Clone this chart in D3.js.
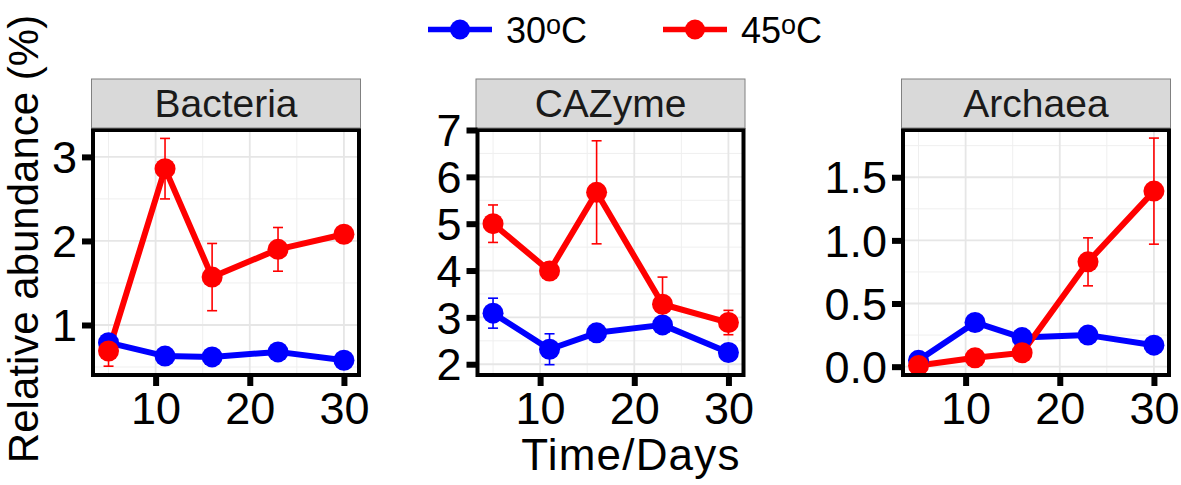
<!DOCTYPE html>
<html>
<head>
<meta charset="utf-8">
<script src="https://cdn.jsdelivr.net/npm/d3@7"></script>
<style>
  html, body { margin: 0; padding: 0; background: #ffffff; }
  svg { display: block; font-family: "Liberation Sans", Arial, Helvetica, sans-serif; }
</style>
</head>
<body>
<script>
// ---------------- data ----------------
const days = [5, 11, 16, 23, 30];
const panelNames = ["Bacteria", "CAZyme", "Archaea"];
const seriesNames = ["30", "45"];
const seriesColors = ["#0000ff", "#ff0000"];

const bacteria30 = [0.79, 0.63, 0.62, 0.68, 0.58];
const bacteria30Sd = [0.05, 0.04, 0.04, 0.05, 0.03];
const bacteria45 = [0.69, 2.86, 1.57, 1.90, 2.08];
const bacteria45Sd = [0.18, 0.36, 0.40, 0.26, 0.04];

const cazyme30 = [3.09, 2.32, 2.67, 2.84, 2.25];
const cazyme30Sd = [0.32, 0.33, 0.08, 0.08, 0.08];
const cazyme45 = [5.00, 3.99, 5.67, 3.28, 2.89];
const cazyme45Sd = [0.40, 0.10, 1.10, 0.58, 0.26];

const archaea30 = [0.05, 0.35, 0.23, 0.25, 0.17];
const archaea30Sd = [0.02, 0.04, 0.03, 0.03, 0.03];
const archaea45 = [0.01, 0.07, 0.11, 0.83, 1.39];
const archaea45Sd = [0.01, 0.02, 0.03, 0.19, 0.42];

const xTicks = [10, 20, 30];
const xMinorTicks = [5, 15, 25];
const bacteriaYTicks = [1, 2, 3];
const bacteriaYMinor = [0.5, 1.5, 2.5];
const cazymeYTicks = [2, 3, 4, 5, 6, 7];
const cazymeYMinor = [2.5, 3.5, 4.5, 5.5, 6.5];
const archaeaYTicks = [0.0, 0.5, 1.0, 1.5];
const archaeaYMinor = [0.25, 0.75, 1.25, 1.75];

const xDomain = [3.35, 31.6];
const bacteriaYDomain = [0.405, 3.32];
const cazymeYDomain = [1.77, 7.0];
const archaeaYDomain = [-0.066, 1.874];

const yLabel = "Relative abundance (%)";
const xLabel = "Time/Days";

// ---------------- build ----------------
const panels = [
  { name: panelNames[0], values: [bacteria30, bacteria45], sds: [bacteria30Sd, bacteria45Sd],
    yTicks: bacteriaYTicks, yMinor: bacteriaYMinor, yDomain: bacteriaYDomain, fmt: d3.format("d") },
  { name: panelNames[1], values: [cazyme30, cazyme45], sds: [cazyme30Sd, cazyme45Sd],
    yTicks: cazymeYTicks, yMinor: cazymeYMinor, yDomain: cazymeYDomain, fmt: d3.format("d") },
  { name: panelNames[2], values: [archaea30, archaea45], sds: [archaea30Sd, archaea45Sd],
    yTicks: archaeaYTicks, yMinor: archaeaYMinor, yDomain: archaeaYDomain, fmt: d3.format(".1f") }
];

const W = 1181, H = 485;
const panelLefts = [93, 477.5, 903];
const panelW = 266;
const panelTop = 130, panelBottom = 375;
const stripTop = 79;

const svg = d3.select("body").append("svg").attr("width", W).attr("height", H);

panels.forEach((p, i) => {
  const left = panelLefts[i];
  const x = d3.scaleLinear().domain(xDomain).range([left, left + panelW]);
  const y = d3.scaleLinear().domain(p.yDomain).range([panelBottom, panelTop]);
  const g = svg.append("g");

  // background
  g.append("rect").attr("x", left).attr("y", panelTop)
    .attr("width", panelW).attr("height", panelBottom - panelTop).attr("fill", "#ffffff");

  // minor grid
  g.selectAll(".xminor").data(xMinorTicks).join("line")
    .attr("x1", d => x(d)).attr("x2", d => x(d))
    .attr("y1", panelTop).attr("y2", panelBottom)
    .attr("stroke", "#efefef").attr("stroke-width", 1);
  g.selectAll(".yminor").data(p.yMinor).join("line")
    .attr("y1", d => y(d)).attr("y2", d => y(d))
    .attr("x1", left).attr("x2", left + panelW)
    .attr("stroke", "#efefef").attr("stroke-width", 1);
  // major grid
  g.selectAll(".xmajor").data(xTicks).join("line")
    .attr("x1", d => x(d)).attr("x2", d => x(d))
    .attr("y1", panelTop).attr("y2", panelBottom)
    .attr("stroke", "#e6e6e6").attr("stroke-width", 1.8);
  g.selectAll(".ymajor").data(p.yTicks).join("line")
    .attr("y1", d => y(d)).attr("y2", d => y(d))
    .attr("x1", left).attr("x2", left + panelW)
    .attr("stroke", "#e6e6e6").attr("stroke-width", 1.8);

  // error bars (all series first)
  p.values.forEach((vals, s) => {
    const sd = p.sds[s];
    const eg = g.append("g").attr("stroke", seriesColors[s]).attr("stroke-width", 1.6).attr("fill", "none");
    days.forEach((d, k) => {
      const lo = y(vals[k] - sd[k]), hi = y(vals[k] + sd[k]), cx = x(d);
      eg.append("line").attr("x1", cx).attr("x2", cx).attr("y1", lo).attr("y2", hi);
      eg.append("line").attr("x1", cx - 5).attr("x2", cx + 5).attr("y1", lo).attr("y2", lo);
      eg.append("line").attr("x1", cx - 5).attr("x2", cx + 5).attr("y1", hi).attr("y2", hi);
    });
  });

  // lines
  const line = d3.line().x((d, k) => x(days[k])).y(d => y(d));
  p.values.forEach((vals, s) => {
    g.append("path").attr("d", line(vals)).attr("fill", "none")
      .attr("stroke", seriesColors[s]).attr("stroke-width", 6)
      .attr("stroke-linejoin", "round").attr("stroke-linecap", "butt");
  });

  // points
  p.values.forEach((vals, s) => {
    g.selectAll(".pt" + s).data(vals).join("circle")
      .attr("cx", (d, k) => x(days[k])).attr("cy", d => y(d))
      .attr("r", 10.5).attr("fill", seriesColors[s]);
  });

  // panel border
  g.append("rect").attr("x", left).attr("y", panelTop)
    .attr("width", panelW).attr("height", panelBottom - panelTop)
    .attr("fill", "none").attr("stroke", "#000").attr("stroke-width", 4);

  // strip
  g.append("rect").attr("x", left - 1.5).attr("y", stripTop)
    .attr("width", panelW + 3).attr("height", panelTop - stripTop - 2)
    .attr("fill", "#d9d9d9").attr("stroke", "#808080").attr("stroke-width", 1);
  g.append("text").attr("x", left + panelW / 2).attr("y", 116.5)
    .attr("text-anchor", "middle").attr("font-size", 39).attr("fill", "#1a1a1a")
    .text(p.name);

  // axes
  const ay = g.append("g").attr("transform", `translate(${left},0)`)
    .call(d3.axisLeft(y).tickValues(p.yTicks).tickSize(11).tickPadding(5).tickFormat(p.fmt));
  ay.select(".domain").remove();
  ay.selectAll(".tick line").attr("stroke", "#000").attr("stroke-width", 6);
  ay.selectAll(".tick text").attr("font-size", 45).attr("fill", "#000")
    .attr("font-family", "Liberation Sans, Arial, sans-serif").attr("dy", "0.35em");

  const ax = g.append("g").attr("transform", `translate(0,${panelBottom})`)
    .call(d3.axisBottom(x).tickValues(xTicks).tickSize(11).tickFormat(d3.format("d")));
  ax.select(".domain").remove();
  ax.selectAll(".tick line").attr("stroke", "#000").attr("stroke-width", 6);
  ax.selectAll(".tick text").attr("font-size", 45).attr("fill", "#000")
    .attr("font-family", "Liberation Sans, Arial, sans-serif")
    .attr("dy", null).attr("y", 49);
});

// axis titles
svg.append("text")
  .attr("transform", "translate(38,239) rotate(-90)")
  .attr("text-anchor", "middle").attr("font-size", 42).attr("fill", "#000")
  .text(yLabel);
svg.append("text")
  .attr("x", 631).attr("y", 470)
  .attr("text-anchor", "middle").attr("font-size", 44).attr("letter-spacing", 1.2).attr("fill", "#000")
  .text(xLabel);

// legend
const legendX = [428, 663];
seriesNames.forEach((nm, s) => {
  const lg = svg.append("g").attr("transform", `translate(${legendX[s]},29.5)`);
  lg.append("line").attr("x1", 0).attr("x2", 64).attr("y1", 0).attr("y2", 0)
    .attr("stroke", seriesColors[s]).attr("stroke-width", 5.5);
  lg.append("circle").attr("cx", 32).attr("cy", 0).attr("r", 10).attr("fill", seriesColors[s]);
  const t = lg.append("text").attr("x", 78).attr("y", 13).attr("font-size", 36).attr("fill", "#000");
  t.append("tspan").text(nm);
  t.append("tspan").attr("font-size", 27).attr("dy", -9).text("o");
  t.append("tspan").attr("font-size", 36).attr("dy", 9).text("C");
});
</script>
</body>
</html>
